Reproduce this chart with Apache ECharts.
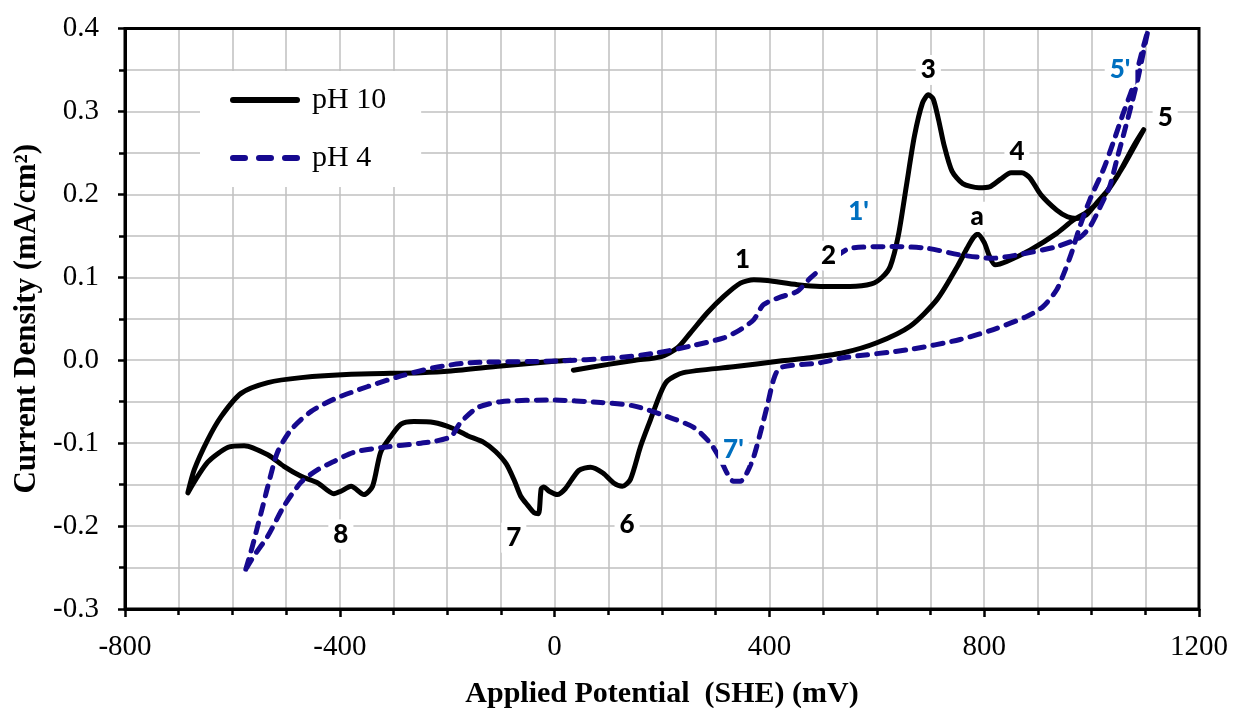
<!DOCTYPE html>
<html><head><meta charset="utf-8">
<script src="https://cdn.jsdelivr.net/npm/echarts@6/dist/echarts.min.js"></script>
<style>html,body{margin:0;padding:0;background:#fff}#c{width:1235px;height:708px}</style>
</head><body><div id="c"></div>
<script>
// pH 10 (solid) cyclic scan, in drawing order
const ph10X = [35,100,150,197,229,253,284,315,346,371,396,452,495,550,590,610,625,640,655,670,685,696,705,715,725,740,760,790,810,830,850,870,885,905,935,955,972,990,1010,1030,1060,1080,1097,
  1078,1047,1016,990,966,935,886,842,820,810,800,788,780,768,750,712,662,600,538,476,420,333,240,210,197,179,160,141,126,110,90,67,45,20,5,-10,-20,-25,-30,-38,-50,-63,-75,-90,-110,-132,-162,-190,-225,-262,-286,-305,-324,-339,-355,-379,-398,-411,-441,-472,-504,-534,-578,-608,-646,-683,
  -671,-646,-621,-584,-534,-472,-379,-249,-193,-100,5,30];
const ph10Y = [-0.012,-0.005,0.0,0.004,0.015,0.033,0.057,0.077,0.093,0.097,0.096,0.091,0.089,0.089,0.092,0.1,0.113,0.15,0.21,0.27,0.31,0.32,0.315,0.29,0.26,0.228,0.213,0.208,0.209,0.218,0.226,0.226,0.22,0.2,0.181,0.173,0.171,0.175,0.19,0.205,0.235,0.258,0.278,
  0.258,0.221,0.193,0.178,0.169,0.153,0.133,0.119,0.115,0.125,0.142,0.152,0.148,0.135,0.113,0.073,0.041,0.021,0.009,0.003,-0.001,-0.008,-0.015,-0.025,-0.04,-0.071,-0.104,-0.144,-0.152,-0.148,-0.136,-0.129,-0.133,-0.155,-0.162,-0.158,-0.153,-0.155,-0.185,-0.184,-0.175,-0.164,-0.145,-0.125,-0.11,-0.099,-0.091,-0.082,-0.075,-0.074,-0.077,-0.092,-0.111,-0.152,-0.162,-0.152,-0.158,-0.161,-0.148,-0.14,-0.128,-0.114,-0.103,-0.105,-0.123,-0.16,
  -0.132,-0.096,-0.068,-0.04,-0.027,-0.021,-0.017,-0.015,-0.013,-0.007,-0.001,0.0];

// pH 4 (dashed) cyclic scan, in drawing order
const ph4X = [-575,-563,-553,-543,-534,-516,-491,-454,-411,-349,-286,-225,-156,0,117,192,253,315,346,371,389,420,452,476,500,551,631,694,755,817,870,935,978,997,1016,1034,1047,1062,1075,1087,1096,1105,
  1093,1077,1059,1040,1022,997,978,963,951,935,910,880,817,755,662,538,495,420,408,396,383,371,358,346,333,321,309,290,259,210,147,86,-7,-100,-143,-175,-193,-225,-249,-318,-374,-411,-441,-472,-504,-534,-560,-575];
const ph4Y = [-0.252,-0.225,-0.2,-0.175,-0.152,-0.111,-0.084,-0.062,-0.047,-0.032,-0.019,-0.009,-0.003,-0.001,0.003,0.009,0.017,0.027,0.037,0.049,0.067,0.076,0.083,0.099,0.112,0.135,0.137,0.135,0.127,0.123,0.128,0.137,0.148,0.161,0.185,0.21,0.242,0.278,0.31,0.342,0.37,0.398,
  0.37,0.33,0.298,0.262,0.23,0.194,0.161,0.13,0.109,0.085,0.065,0.053,0.037,0.025,0.013,0.003,-0.003,-0.009,-0.023,-0.055,-0.088,-0.116,-0.136,-0.146,-0.146,-0.136,-0.12,-0.1,-0.081,-0.068,-0.055,-0.051,-0.048,-0.05,-0.057,-0.075,-0.092,-0.098,-0.1,-0.105,-0.111,-0.122,-0.132,-0.147,-0.176,-0.212,-0.236,-0.252];

// peak annotations
const annoText = ['1','2',"1'",'3','4','a',"5'",'5',"7'",'6','7','8'];
const annoX = [350,510,566,696,861,787,1053,1137,333,135,-76,-398];
const annoY = [0.121,0.126,0.179,0.35,0.252,0.173,0.35,0.292,-0.108,-0.198,-0.214,-0.21];
const annoBlue = [false,false,true,false,false,false,true,false,true,false,false,false];

const seriesNames = ['pH 10','pH 4'];
const xTicks = [-800,1200,400];
const yTicks = [-0.3,0.4,0.1];

const zip = (a,b) => a.map((v,i)=>[v,b[i]]);
const serif = 'Liberation Serif';
const solidIcon = 'path://M3,0H67A3,3 0 0 1 67,6H3A3,3 0 0 1 3,0Z';
const dashIcon = 'path://M3,0H15A3,3 0 0 1 15,6H3A3,3 0 0 1 3,0Z M29,0H41A3,3 0 0 1 41,6H29A3,3 0 0 1 29,0Z M55,0H67A3,3 0 0 1 67,6H55A3,3 0 0 1 55,0Z';
const chart = echarts.init(document.getElementById('c'), null, {renderer:'canvas'});
chart.setOption({
  animation:false,
  backgroundColor:'#fff',
  grid:{left:125,right:36,top:28.5,bottom:99,show:true,borderColor:'#000',borderWidth:3,backgroundColor:'transparent',z:5,
        containLabel:false,outerBoundsMode:'none'},
  legend:{
    data:[{name:seriesNames[0],icon:solidIcon},{name:seriesNames[1],icon:dashIcon}],
    orient:'vertical', left:200, top:71,
    backgroundColor:'#fff', padding:[14,35,14,30],
    itemWidth:70, itemHeight:6, itemGap:28,
    textStyle:{fontFamily:serif,fontSize:30,color:'#000',lineHeight:28,padding:[0,0,0,7]}
  },
  xAxis:{
    type:'value', min:xTicks[0], max:xTicks[1], interval:xTicks[2],
    axisLine:{onZero:false,lineStyle:{color:'#000',width:3}},
    axisTick:{show:true,length:8,inside:false,lineStyle:{color:'#000',width:2.5}},
    minorTick:{show:true,splitNumber:4,length:6,lineStyle:{color:'#000',width:2.5}},
    splitLine:{show:true,lineStyle:{color:'#c0c0c0',width:1.5}},
    minorSplitLine:{show:true,lineStyle:{color:'#c0c0c0',width:1.5}},
    axisLabel:{fontFamily:serif,fontSize:29,color:'#000',margin:24,formatter:v=>String(v)},
    name:'Applied Potential  (SHE) (mV)', nameLocation:'middle', nameGap:70,
    nameTextStyle:{fontFamily:serif,fontSize:30,fontWeight:'bold',color:'#000'}
  },
  yAxis:{
    type:'value', min:yTicks[0], max:yTicks[1], interval:yTicks[2],
    axisLine:{onZero:false,lineStyle:{color:'#000',width:3}},
    axisTick:{show:true,length:7,lineStyle:{color:'#000',width:2.5}},
    minorTick:{show:true,splitNumber:2,length:6,lineStyle:{color:'#000',width:2.5}},
    splitLine:{show:true,lineStyle:{color:'#c0c0c0',width:1.5}},
    minorSplitLine:{show:true,lineStyle:{color:'#c0c0c0',width:1.5}},
    axisLabel:{fontFamily:serif,fontSize:29,color:'#000',margin:26,formatter:v=>v.toFixed(1)},
    name:'Current Density (mA/cm²)', nameLocation:'middle', nameGap:82,
    nameTextStyle:{fontFamily:serif,fontSize:31,fontWeight:'bold',color:'#000'}
  },
  series:[
    {name:seriesNames[0], type:'line', data:zip(ph10X,ph10Y), showSymbol:false, symbol:'none', smooth:0.25, z:3,
     lineStyle:{color:'#000',width:5,cap:'round',join:'round'}, itemStyle:{color:'#000'}},
    {name:seriesNames[1], type:'line', data:zip(ph4X,ph4Y), showSymbol:false, symbol:'none', smooth:0.25, z:4,
     lineStyle:{color:'#16098f',width:5,type:[10,9],cap:'round',join:'round'}, itemStyle:{color:'#16098f'}},
    {name:'labels', type:'scatter', symbolSize:0, z:10, silent:true,
     data:annoText.map((t,i)=>({name:t,value:[annoX[i],annoY[i]],
       label:{show:true,position:'inside',formatter:t,fontFamily:'Lato',fontWeight:900,fontSize:26,opacity:1,
              color:annoBlue[i]?'#0070c0':'#000',backgroundColor:'#fff',padding:[2,5]}}))}
  ]
});
</script></body></html>
